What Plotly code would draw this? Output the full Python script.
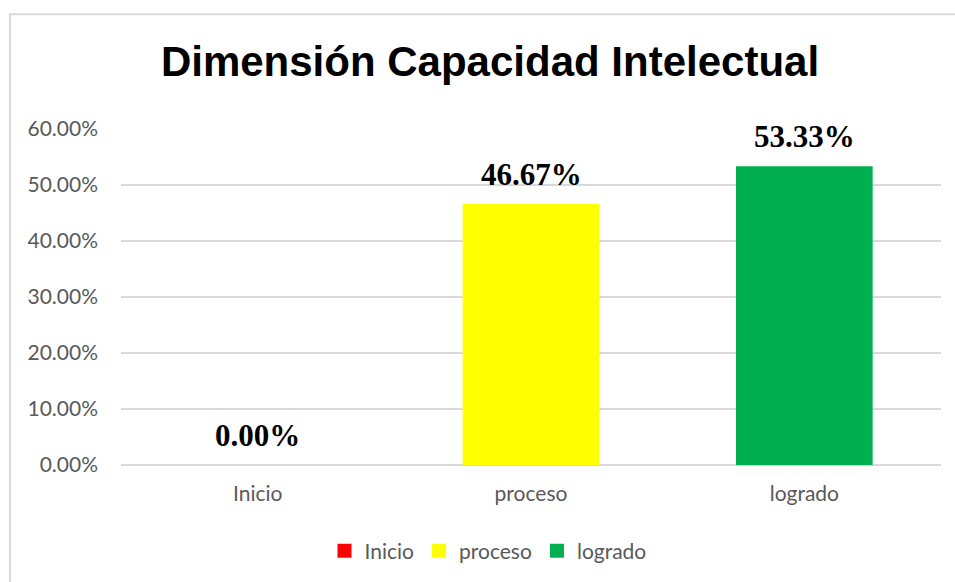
import plotly.graph_objects as go

categories = ["Inicio", "proceso", "logrado"]
values = [0.0, 0.4667, 0.5333]
labels = ["0.00%", "46.67%", "53.33%"]
colors = ["#FF0000", "#FFFF00", "#00B050"]
tick_vals = [0, 0.1, 0.2, 0.3, 0.4, 0.5, 0.6]
tick_text = ["0.00%", "10.00%", "20.00%", "30.00%", "40.00%", "50.00%", "60.00%"]

W, H = 955, 582
L, R, T, B = 121, 14, 129, 116
PW, PH = W - L - R, H - T - B

fig = go.Figure()
for cat, val, col in zip(categories, values, colors):
    fig.add_trace(go.Bar(
        x=[cat], y=[val], name=cat, marker=dict(color=col, line=dict(width=0)),
        width=0.5, showlegend=False, legendgroup=cat,
    ))
# legend entries with larger square swatches
for cat, col in zip(categories, colors):
    fig.add_trace(go.Scatter(
        x=[None], y=[None], mode="markers", name=cat, legendgroup=cat,
        marker=dict(symbol="square", size=14, color=col), showlegend=True,
    ))

annotations = []
for cat, val, lab in zip(categories, values, labels):
    annotations.append(dict(
        x=cat, y=val, xref="x", yref="y", text=lab, showarrow=False,
        yanchor="bottom", xanchor="center", yshift=10,
        font=dict(family="Liberation Serif", size=31, color="#000000", weight="bold"),
    ))

fig.update_layout(
    width=W, height=H,
    barmode="overlay",
    paper_bgcolor="white", plot_bgcolor="white",
    margin=dict(l=L, r=R, t=T, b=B),
    title=dict(text="<b>Dimensión Capacidad Intelectual</b>", x=490 / W, xanchor="center",
               y=1 - 61 / H, yanchor="middle",
               font=dict(family="Liberation Sans", size=42, color="#000000")),
    showlegend=True,
    legend=dict(orientation="h", x=(488 - L) / PW, xanchor="center",
                y=-(551 - (H - B)) / PH, yanchor="middle",
                font=dict(family="Lato", size=21, color="#595959"),
                itemsizing="trace", tracegroupgap=0),
    annotations=annotations,
    xaxis=dict(categoryorder="array", categoryarray=categories, showgrid=False,
               showline=False, ticks="", ticklabelstandoff=14,
               tickfont=dict(family="Lato", size=21, color="#595959")),
    yaxis=dict(range=[0, 0.6], tickvals=tick_vals, ticktext=tick_text,
               showgrid=True, gridcolor="#D9D9D9", gridwidth=1.5, zeroline=True,
               zerolinecolor="#D9D9D9", zerolinewidth=1.5, showline=False, ticks="",
               ticklabelstandoff=22,
               tickfont=dict(family="Lato", size=21, color="#595959")),
    shapes=[dict(type="rect", xref="paper", yref="paper",
                 x0=(10 - L) / PW, x1=(965 - L) / PW,
                 y0=-(600 - (H - T - B) - T) / PH, y1=((H - B) - 14) / PH,
                 line=dict(color="#D9D9D9", width=2), layer="below")],
)
fig.write_html("out.html", config={"displayModeBar": False},
               post_script="document.body.style.margin='0';document.body.style.overflow='hidden';")
